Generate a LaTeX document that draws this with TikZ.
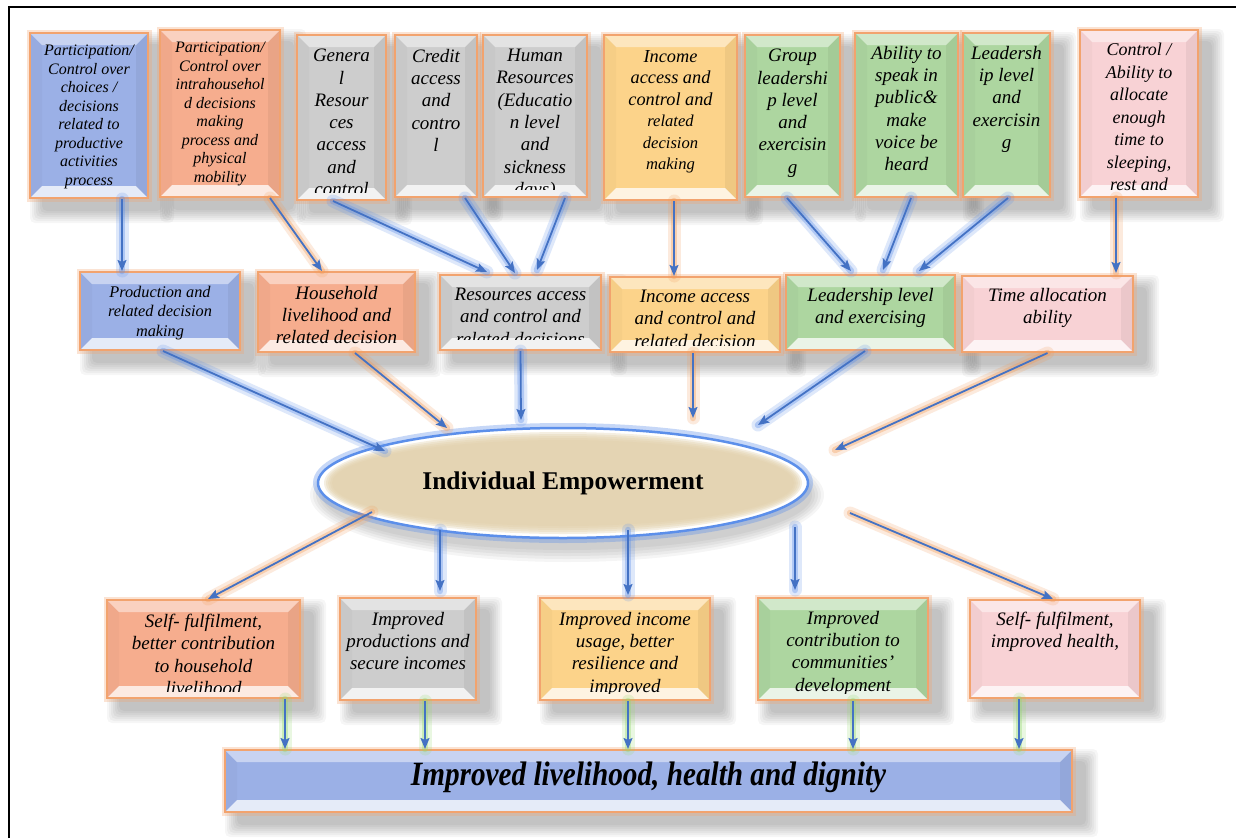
\documentclass[tikz,border=0pt]{standalone}
\usepackage{fontspec}
\setmainfont{Liberation Serif}
\usetikzlibrary{arrows.meta,shapes.geometric}

\definecolor{bluefill}{HTML}{9BB0E6}
\definecolor{salmonfill}{HTML}{F6AD8E}
\definecolor{grayfill}{HTML}{CDCDCD}
\definecolor{yellowfill}{HTML}{FCD38A}
\definecolor{greenfill}{HTML}{ADD6A0}
\definecolor{pinkfill}{HTML}{F8D2D5}
\definecolor{edge}{HTML}{F2A36E}
\definecolor{arrowblue}{HTML}{4472C4}
\definecolor{glowblue}{HTML}{5C8FEA}
\definecolor{gloworange}{HTML}{F29A55}
\definecolor{glowgreen}{HTML}{92D96A}
\definecolor{sand}{HTML}{E2D0AA}

\pgfdeclarelayer{bg}
\pgfsetlayers{bg,main}

% font settings
\newcommand\fsA{\fontsize{16}{18.5}\selectfont\itshape}
\newcommand\fsB{\fontsize{19}{22.3}\selectfont\itshape}
\newcommand\fsC{\fontsize{18.3}{21.5}\selectfont\itshape}
\newcommand\fsD{\fontsize{16.6}{21.5}\selectfont\itshape}
\newcommand\fsE{\fontsize{18}{22.5}\selectfont\itshape}
\newcommand\fsF{\fontsize{16.3}{19.3}\selectfont\itshape}
\newcommand\fsG{\fontsize{19}{22.3}\selectfont\itshape}
\newcommand\fsH{\fontsize{34}{40}\selectfont\bfseries\itshape}

\newcommand\bv{12pt}
\newcommand\clipin{9pt}

% bevelled faces drawn inside each box
\newcommand\bevels{%
  \fill[white,opacity=.45] (path picture bounding box.north west) -- (path picture bounding box.north east)
     -- ([shift={(-\bv,-\bv)}]path picture bounding box.north east) -- ([shift={(\bv,-\bv)}]path picture bounding box.north west) -- cycle;
  \fill[white,opacity=.75] (path picture bounding box.south west) -- (path picture bounding box.south east)
     -- ([shift={(-\bv,\bv)}]path picture bounding box.south east) -- ([shift={(\bv,\bv)}]path picture bounding box.south west) -- cycle;
  \fill[black,opacity=.025] (path picture bounding box.north west) -- (path picture bounding box.south west)
     -- ([shift={(\bv,\bv)}]path picture bounding box.south west) -- ([shift={(\bv,-\bv)}]path picture bounding box.north west) -- cycle;
  \fill[black,opacity=.05] (path picture bounding box.north east) -- (path picture bounding box.south east)
     -- ([shift={(-\bv,\bv)}]path picture bounding box.south east) -- ([shift={(-\bv,-\bv)}]path picture bounding box.north east) -- cycle;
}

\tikzset{
  bevelbox/.style={rectangle, inner sep=0pt, draw=edge, line width=2pt,
    preaction={draw=edge, draw opacity=.3, line width=7pt},
    path picture={\bevels}},
  boxtext/.style={anchor=north, align=center, inner sep=0pt, text=black},
  arr/.style={draw=arrowblue, line width=1.8pt, -{Stealth[length=11pt,width=9pt,inset=2pt]},
    preaction={draw=#1, draw opacity=.2, line width=13pt, line cap=round, -},
    preaction={draw=#1, draw opacity=.35, line width=6.5pt, line cap=round, -}},
  arr/.default=glowblue
}

% name, cx, cy, width, height, fill, font, top of text, text
\newcommand\bbox[9]{%
  \node[bevelbox, fill=#6, minimum width=#4pt, minimum height=#5pt] (#1) at (#2,#3) {};
  \begin{pgfonlayer}{bg}
    \foreach \g in {0pt,2pt,4pt,6pt,8pt,10pt,12pt}
      \fill[black,opacity=.035,rounded corners=5pt]
        ([shift={(13pt-\g,-12pt+\g)}]#1.north west) rectangle ([shift={(13pt+\g,-12pt-\g)}]#1.south east);
  \end{pgfonlayer}
  \begin{scope}
    \clip ([shift={(2pt,-2pt)}]#1.north west) rectangle ([shift={(-2pt,\clipin)}]#1.south east);
    \node[boxtext, font=#7] (#1-t) at (#2,#8) {#9};
  \end{scope}}

\begin{document}
\begin{tikzpicture}[x=1pt,y=-1pt]
\useasboundingbox (0,0) rectangle (1236,838);
\begin{pgfonlayer}{bg}
  \fill[white] (0,0) rectangle (1236,838);
\end{pgfonlayer}

% frame
\coordinate (fl) at (9,838);
\coordinate (fc) at (9,7);
\coordinate (fr) at (1236,7);
\draw[line width=2pt] (fl) -- (fc) -- (fr);

% upper tier
\renewcommand\clipin{9pt}
\bbox{b1}{89}{115.5}{118}{165}{bluefill}{\fsA}{45}{Participation/\\Control over\\choices /\\decisions\\related to\\productive\\activities\\process}
\bbox{b2}{220}{113.5}{120}{167}{salmonfill}{\fsA}{42}{Participation/\\Control over\\intrahousehol\\d decisions\\making\\process and\\physical\\mobility}
\bbox{b3}{341.5}{117.5}{89}{165}{grayfill}{\fsB}{49}{Genera\\l\\Resour\\ces\\access\\and\\control}
\bbox{b4}{436}{116}{82}{162}{grayfill}{\fsB}{49}{Credit\\access\\and\\contro\\l}
\bbox{b5}{535}{116}{104}{162}{grayfill}{\fsB}{49}{Human\\Resources\\(Educatio\\n level\\and\\sickness\\days)}
\bbox{b6}{670.5}{117.5}{133}{165}{yellowfill}{\fsC}{50}{Income\\access and\\control and\\{\fsD related}\\{\fsD decision}\\{\fsD making}}
\bbox{b7}{792.5}{116}{95}{162}{greenfill}{\fsB}{49}{Group\\leadershi\\p level\\and\\exercisin\\g}
\bbox{b8}{906.5}{115}{103}{164}{greenfill}{\fsB}{46}{Ability to\\speak in\\public\&\\make\\voice be\\heard}
\bbox{b9}{1006.5}{115}{87}{164}{greenfill}{\fsB}{46}{Leadersh\\ip level\\and\\exercisin\\g}
\renewcommand\clipin{5pt}
\bbox{b10}{1139}{113.5}{118}{167}{pinkfill}{\fsE}{43}{Control /\\Ability to\\allocate\\enough\\time to\\sleeping,\\rest and}

% middle tier
\renewcommand\clipin{6pt}
\bbox{m1}{160}{311}{160}{78}{bluefill}{\fsF}{286}{Production and\\related decision\\making}
\bbox{m2}{336.5}{312}{157}{80}{salmonfill}{\fsG}{286}{Household\\livelihood and\\related decision}
\renewcommand\clipin{12pt}
\bbox{m3}{520.5}{312.5}{161}{75}{grayfill}{\fsG}{288}{Resources access\\and control and\\related decisions}
\renewcommand\clipin{8pt}
\bbox{m4}{695}{314.5}{170}{75}{yellowfill}{\fsG}{290}{Income access\\and control and\\related decision}
\renewcommand\clipin{6pt}
\bbox{m5}{870.5}{312.5}{169}{75}{greenfill}{\fsG}{288}{Leadership level\\and exercising}
\bbox{m6}{1047.5}{314}{171}{76}{pinkfill}{\fsG}{288}{Time allocation\\ability}

% central ellipse: white rim, sandy core
\node[ellipse, minimum width=490pt, minimum height=110pt, inner sep=0pt, fill=white,
      draw=glowblue, line width=2.5pt, preaction={draw=glowblue, draw opacity=.35, line width=10pt}] (emp) at (563,483) {};
\foreach \k in {0pt,2pt,4pt,6pt,8pt}
  \fill[sand,opacity=.35] (emp.center) ellipse [x radius=239pt-\k, y radius=51pt-\k];
\node[font=\fontsize{25.5}{30}\selectfont\bfseries, inner sep=0pt] (emp-t) at (emp.center) {Individual Empowerment};
\begin{pgfonlayer}{bg}
  \foreach \g in {0pt,3pt,6pt,9pt,12pt}
    \fill[black,opacity=.04] ([shift={(4pt,-12pt)}]emp.center) ellipse [x radius=245pt+\g, y radius=55pt+\g];
\end{pgfonlayer}

% lower tier
\renewcommand\clipin{8pt}
\bbox{r1}{203.5}{649}{193}{98}{salmonfill}{\fsG}{614}{Self- fulfilment,\\better contribution\\to household\\livelihood}
\bbox{r2}{408}{649}{136}{102}{grayfill}{\fsG}{612}{Improved\\productions and\\secure incomes}
\bbox{r3}{625}{649}{170}{102}{yellowfill}{\fsG}{612}{Improved income\\usage, better\\resilience and\\improved}
\bbox{r4}{843}{649}{170}{102}{greenfill}{\fsG}{611}{Improved\\contribution to\\communities'\\development}
\bbox{r5}{1055}{649}{170}{98}{pinkfill}{\fsG}{612}{Self- fulfilment,\\improved health,}

% outcome bar
\bbox{bar}{648.5}{781}{847}{62}{bluefill}{\fsH}{762}{\scalebox{0.86}[1]{Improved livelihood, health and dignity}}

% upper tier to middle tier
\draw[arr] ([xshift=33pt]b1.south) -- ([xshift=-38pt]m1.north);
\draw[arr=gloworange] ([xshift=50pt]b2.south) -- ([xshift=-14.5pt]m2.north);
\draw[arr] ([xshift=-8.5pt]b3.south) -- ([xshift=-33.5pt,yshift=2pt]m3.north);
\draw[arr] ([xshift=29pt]b4.south) -- ([xshift=-5.5pt,yshift=1pt]m3.north);
\draw[arr] ([xshift=30pt]b5.south) -- ([xshift=16.5pt,yshift=4pt]m3.north);
\draw[arr=gloworange] ([xshift=3.5pt]b6.south) -- ([xshift=-21pt]m4.north);
\draw[arr] ([xshift=-5.5pt]b7.south) -- ([xshift=-19.5pt,yshift=3pt]m5.north);
\draw[arr] ([xshift=4.5pt]b8.south) -- ([xshift=12.5pt,yshift=4pt]m5.north);
\draw[arr] ([xshift=1.5pt]b9.south) -- ([xshift=48.5pt,yshift=3pt]m5.north);
\draw[arr=gloworange] ([xshift=-23pt]b10.south) -- ([xshift=68.5pt,yshift=2pt]m6.north);

% middle tier to ellipse
\draw[arr] ([xshift=3pt]m1.south) -- ([shift={(-178pt,32pt)}]emp.center);
\draw[arr=gloworange] ([xshift=18.5pt]m2.south) -- ([shift={(-116pt,55pt)}]emp.center);
\draw[arr] (m3.south) -- ([shift={(-42pt,63pt)}]emp.center);
\draw[arr=gloworange] ([xshift=-2pt]m4.south) -- ([shift={(130pt,65pt)}]emp.center);
\draw[arr] ([xshift=-5.5pt]m5.south) -- ([shift={(195pt,58pt)}]emp.center);
\draw[arr=gloworange] (m6.south) -- ([shift={(272pt,33pt)}]emp.center);

% ellipse to lower tier
\draw[arr=gloworange] ([shift={(-191pt,-29pt)}]emp.center) -- ([xshift=4.5pt]r1.north);
\draw[arr] ([shift={(-123pt,-47pt)}]emp.center) -- ([xshift=32pt,yshift=6pt]r2.north);
\draw[arr] ([shift={(65pt,-47pt)}]emp.center) -- ([xshift=3pt,yshift=2pt]r3.north);
\draw[arr] ([shift={(232pt,-44pt)}]emp.center) -- ([xshift=-48pt,yshift=7pt]r4.north);
\draw[arr=gloworange] ([shift={(287pt,-30pt)}]emp.center) -- ([xshift=-2pt]r5.north);

% lower tier to outcome bar
\draw[arr=glowgreen] ([xshift=81.5pt]r1.south) -- ([xshift=-363.5pt]bar.north);
\draw[arr=glowgreen] ([xshift=17pt]r2.south) -- ([xshift=-223.5pt]bar.north);
\draw[arr=glowgreen] ([xshift=3pt]r3.south) -- ([xshift=-20.5pt]bar.north);
\draw[arr=glowgreen] ([xshift=10pt]r4.south) -- ([xshift=204.5pt]bar.north);
\draw[arr=glowgreen] ([xshift=-36pt]r5.south) -- ([xshift=370.5pt]bar.north);
\end{tikzpicture}
\end{document}
